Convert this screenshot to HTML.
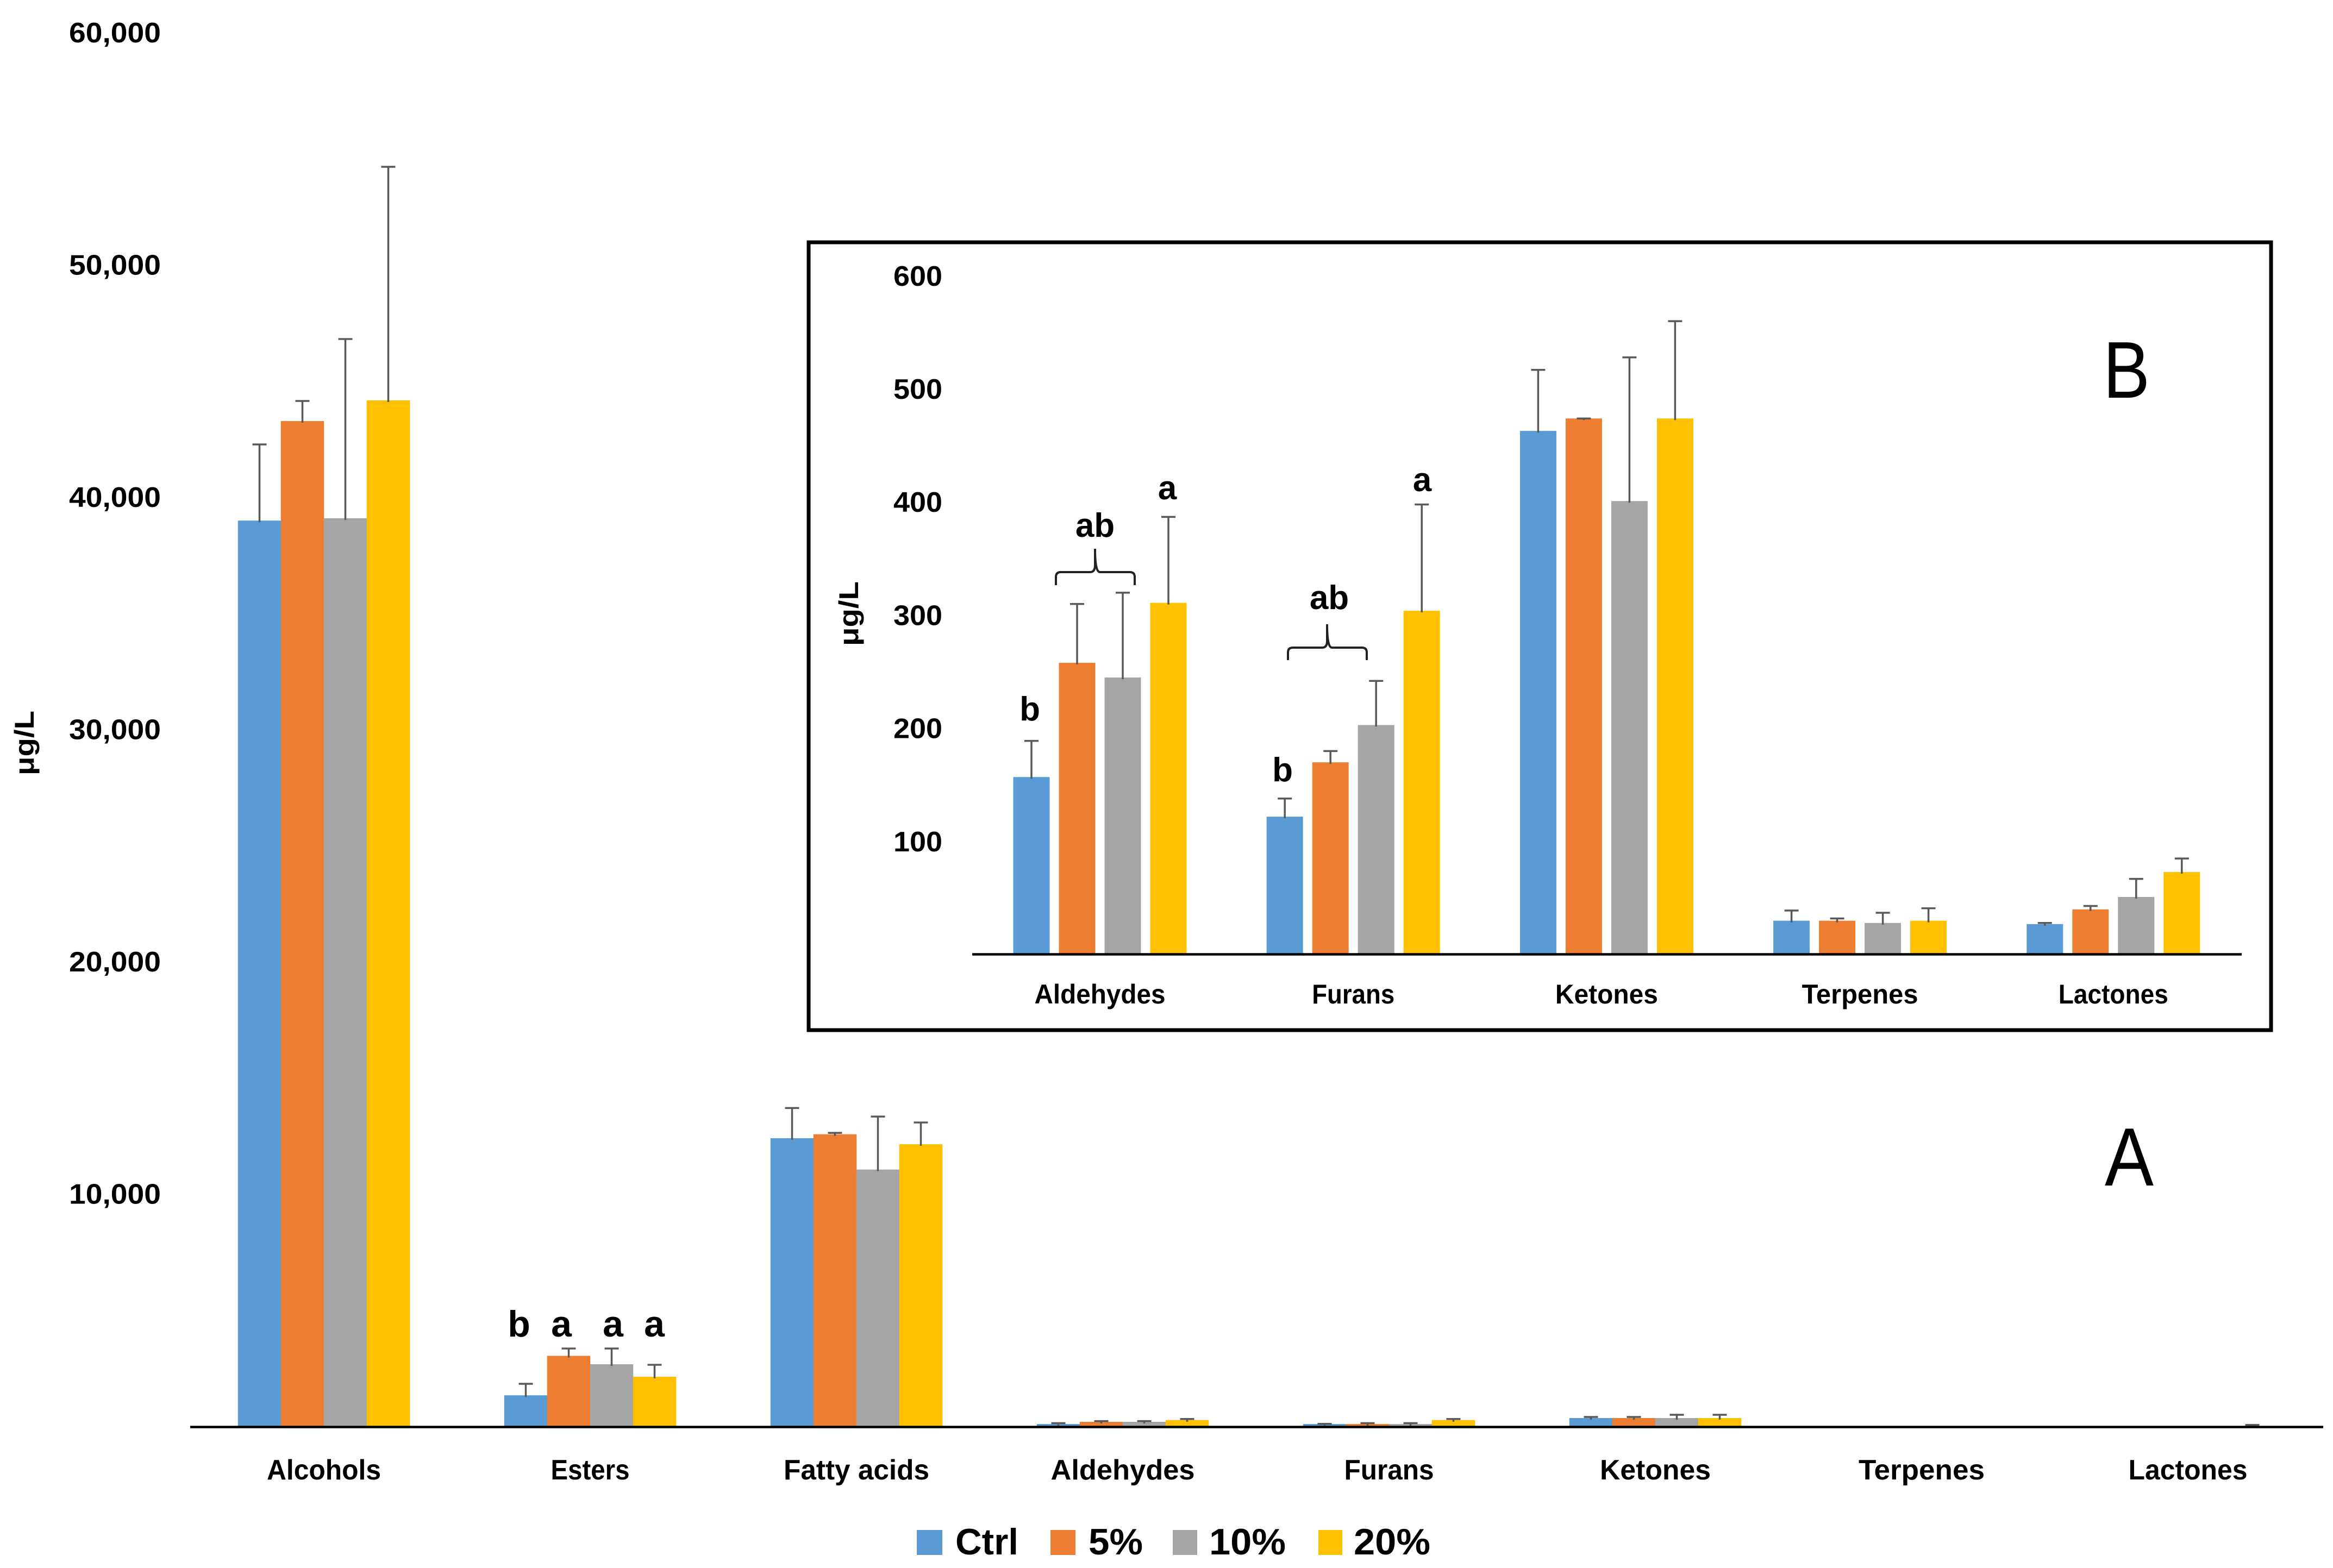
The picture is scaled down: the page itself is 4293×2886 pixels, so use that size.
<!DOCTYPE html>
<html lang="en">
<head>
<meta charset="utf-8">
<title>Volatile compound classes by treatment</title>
<style>
html,body{margin:0;padding:0;background:#fff;}
svg{display:block;}
text{font-family:"Liberation Sans",sans-serif;font-weight:bold;fill:#000;}
</style>
</head>
<body>
<svg id="chart" xmlns="http://www.w3.org/2000/svg" width="4293" height="2886" viewBox="0 0 4293 2886">
  <rect x="0" y="0" width="4293" height="2886" fill="#ffffff"/>
  <g id="panelA"></g>
  <rect x="1488" y="446" width="2691" height="1450" fill="#ffffff" stroke="#000000" stroke-width="7"/>
  <g id="panelB"></g>

  <text transform="translate(62,1427) rotate(-90)" font-size="50" textLength="119" lengthAdjust="spacingAndGlyphs">μg/L</text>
  <text transform="translate(1579,1189) rotate(-90)" font-size="50" textLength="119" lengthAdjust="spacingAndGlyphs">μg/L</text>

  <text x="3873" y="2182" font-size="152" style="font-weight:normal" textLength="90" lengthAdjust="spacingAndGlyphs">A</text>
  <text x="3870" y="732" font-size="148" style="font-weight:normal" textLength="86" lengthAdjust="spacingAndGlyphs">B</text>

  <text x="955" y="2460" font-size="68" text-anchor="middle">b</text>
  <text x="1033" y="2460" font-size="68" text-anchor="middle">a</text>
  <text x="1128" y="2460" font-size="68" text-anchor="middle">a</text>
  <text x="1204" y="2460" font-size="68" text-anchor="middle">a</text>

  <text x="1895" y="1326" font-size="62" text-anchor="middle">b</text>
  <text x="2015" y="988" font-size="62" text-anchor="middle">ab</text>
  <text x="2148" y="919" font-size="62" text-anchor="middle">a</text>
  <text x="2360" y="1438" font-size="62" text-anchor="middle">b</text>
  <text x="2446" y="1121" font-size="62" text-anchor="middle">ab</text>
  <text x="2617" y="904" font-size="62" text-anchor="middle">a</text>

  <path fill="none" stroke="#222222" stroke-width="4" d="M1943 1077 V1062 Q1943 1053 1952 1053 H2006 Q2015 1053 2015 1040 V1010 Q2015 1053 2024 1053 H2079 Q2088 1053 2088 1062 V1077"/>
  <path fill="none" stroke="#222222" stroke-width="4" d="M2370 1215 V1201 Q2370 1192 2379 1192 H2433 Q2442 1192 2442 1180 V1149 Q2442 1192 2451 1192 H2506 Q2515 1192 2515 1201 V1215"/>

  <g>
    <rect x="1687" y="2816" width="47" height="46" fill="#5B9BD5"/>
    <text x="1758" y="2861" font-size="68" textLength="116" lengthAdjust="spacingAndGlyphs">Ctrl</text>
    <rect x="1933" y="2816" width="46" height="46" fill="#ED7D31"/>
    <text x="2003" y="2861" font-size="68" textLength="100" lengthAdjust="spacingAndGlyphs">5%</text>
    <rect x="2158" y="2816" width="45" height="46" fill="#A5A5A5"/>
    <text x="2225" y="2861" font-size="68" textLength="141" lengthAdjust="spacingAndGlyphs">10%</text>
    <rect x="2426" y="2816" width="44" height="46" fill="#FFC000"/>
    <text x="2491" y="2861" font-size="68" textLength="141" lengthAdjust="spacingAndGlyphs">20%</text>
  </g>
</svg>

<script>
// ---- Panel A data (μg/L) ----
const categoriesA = ["Alcohols","Esters","Fatty acids","Aldehydes","Furans","Ketones","Terpenes","Lactones"];
const ctrlA   = [38990, 1330, 12400,  94,  94, 351, 12, 12];
const fiveA   = [43275, 3030, 12570, 187,  94, 351, 12, 12];
const tenA    = [39090, 2667, 11050, 187,  94, 351, 12, 12];
const twentyA = [44165, 2129, 12140, 264, 264, 351, 12, 12];
const errCtrlA   = [ 3280, 495, 1300, 39,  5,  47, null, null];
const errFiveA   = [  865, 315,   60, 31, 39,  47, null, null];
const errTenA    = [ 7717, 678, 2280, 31, 39, 140, null, null];
const errTwentyA = [10057, 514,  936, 47, 47, 140, null, 43];
const tickValuesA = [10000, 20000, 30000, 40000, 50000, 60000];
const tickLabelsA = ["10,000","20,000","30,000","40,000","50,000","60,000"];

// ---- Panel B data (μg/L) ----
const categoriesB = ["Aldehydes","Furans","Ketones","Terpenes","Lactones"];
const ctrlB   = [156, 121, 462, 29, 26];
const fiveB   = [257, 169, 473, 29, 39];
const tenB    = [244, 202, 400, 27, 50];
const twentyB = [310, 303, 473, 29, 72];
const errCtrlB   = [32, 16, 54,  9, 1];
const errFiveB   = [52, 10,  0,  2, 3];
const errTenB    = [75, 39, 127, 9, 16];
const errTwentyB = [76, 94, 86, 11, 12];
const tickValuesB = [100, 200, 300, 400, 500, 600];
const tickLabelsB = ["100","200","300","400","500","600"];

const seriesNames = ["ctrl","5pct","10pct","20pct"];
const seriesColors = ["#5B9BD5","#ED7D31","#A5A5A5","#FFC000"];

const NS = "http://www.w3.org/2000/svg";

function makeEl(tag, parent) {
  const el = document.createElementNS(NS, tag);
  parent.appendChild(el);
  return el;
}

function drawPanel(p) {
  const g = document.getElementById(p.id);
  const yScale = function (v) { return p.baseY - v * p.pxPerUnit; };
  const xCenter = function (i) { return p.firstCenter + i * p.catSpacing; };

  p.series.forEach(function (values, s) {
    values.forEach(function (v, c) {
      const x = xCenter(c) + (s - 2) * p.pitch + (p.pitch - p.barWidth) / 2;
      const bar = makeEl("rect", g);
      
      
      bar.setAttribute("x", x);
      bar.setAttribute("y", yScale(v));
      bar.setAttribute("width", p.barWidth);
      bar.setAttribute("height", p.baseY - yScale(v));
      bar.setAttribute("fill", seriesColors[s]);
    });
  });

  p.errors.forEach(function (errs, s) {
    errs.forEach(function (e, c) {
      if (e === null) return;
      const v = p.series[s][c];
      const cx = xCenter(c) + (s - 2) * p.pitch + p.pitch / 2;
      const top = yScale(v + e);
      const stem = makeEl("line", g);
      
      
      stem.setAttribute("x1", cx);
      stem.setAttribute("x2", cx);
      stem.setAttribute("y1", top);
      stem.setAttribute("y2", yScale(v) + 3);
      stem.setAttribute("stroke", "#595959");
      stem.setAttribute("stroke-width", 3.5);
      const cap = makeEl("line", g);
      
      
      cap.setAttribute("x1", cx - 13);
      cap.setAttribute("x2", cx + 13);
      cap.setAttribute("y1", top);
      cap.setAttribute("y2", top);
      cap.setAttribute("stroke", "#595959");
      cap.setAttribute("stroke-width", 3.5);
    });
  });

  const axis = makeEl("line", g);
  
  
  axis.setAttribute("x1", p.axisX1);
  axis.setAttribute("x2", p.axisX2);
  axis.setAttribute("y1", p.baseY + 1.5);
  axis.setAttribute("y2", p.baseY + 1.5);
  axis.setAttribute("stroke", "#000000");
  axis.setAttribute("stroke-width", 4.5);

  p.tickValues.forEach(function (v, i) {
    const t = makeEl("text", g);
    
    
    t.setAttribute("x", p.tickRight - p.tickWidth);
    t.setAttribute("y", yScale(v) + p.tickBaselineOffset);
    t.setAttribute("font-size", p.tickFont);
    t.setAttribute("textLength", p.tickWidth);
    t.setAttribute("lengthAdjust", "spacingAndGlyphs");
    t.textContent = p.tickLabels[i];
  });

  p.categories.forEach(function (name, i) {
    const t = makeEl("text", g);
    
    
    t.setAttribute("x", xCenter(i) - p.labelWidths[i] / 2);
    t.setAttribute("y", p.labelBaseline);
    t.setAttribute("font-size", p.labelFont);
    t.setAttribute("textLength", p.labelWidths[i]);
    t.setAttribute("lengthAdjust", "spacingAndGlyphs");
    t.textContent = name;
  });
}

drawPanel({
  id: "panelA", tag: "a",
  categories: categoriesA,
  series: [ctrlA, fiveA, tenA, twentyA],
  errors: [errCtrlA, errFiveA, errTenA, errTwentyA],
  tickValues: tickValuesA, tickLabels: tickLabelsA,
  baseY: 2625, pxPerUnit: 0.04275,
  firstCenter: 596, catSpacing: 490, pitch: 79, barWidth: 79.5,
  axisX1: 350, axisX2: 4275,
  tickRight: 296, tickWidth: 169, tickFont: 52, tickBaselineOffset: 18,
  labelWidths: [210, 145, 268, 265, 165, 204, 232, 219], labelBaseline: 2723, labelFont: 52
});

drawPanel({
  id: "panelB", tag: "b",
  categories: categoriesB,
  series: [ctrlB, fiveB, tenB, twentyB],
  errors: [errCtrlB, errFiveB, errTenB, errTwentyB],
  tickValues: tickValuesB, tickLabels: tickLabelsB,
  baseY: 1755, pxPerUnit: 2.082,
  firstCenter: 2024, catSpacing: 466.2, pitch: 84, barWidth: 67,
  axisX1: 1789, axisX2: 4125,
  tickRight: 1734, tickWidth: 90, tickFont: 52, tickBaselineOffset: 20,
  labelWidths: [241, 152, 189, 214, 202], labelBaseline: 1847, labelFont: 50
});
</script>
</body>
</html>
